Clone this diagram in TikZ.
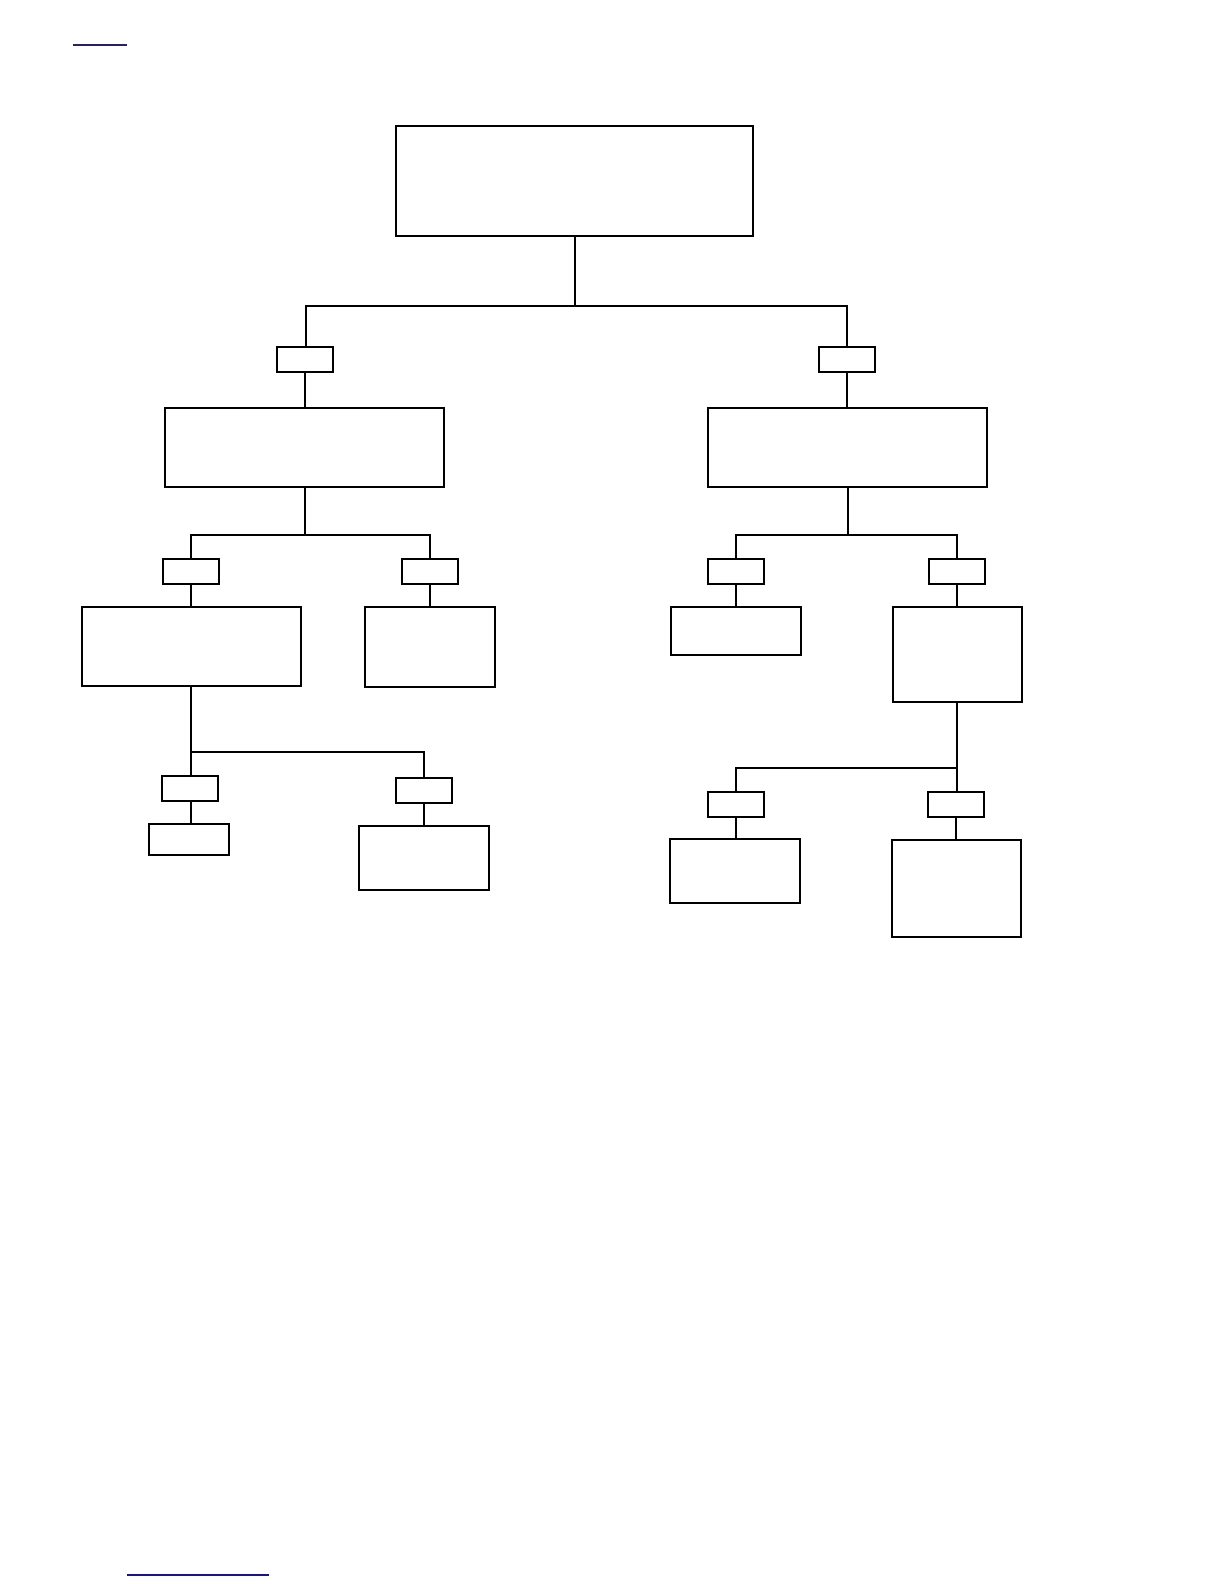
\documentclass[tikz,border=0pt]{standalone}
\begin{document}
\begin{tikzpicture}[x=1pt,y=-1pt,
  box/.style={draw=black,line width=2pt,inner sep=0pt,fill=white},
  tag/.style={box,minimum width=56pt,minimum height=25pt},
  link/.style={line width=2pt,line cap=rect}]
\useasboundingbox (0,0) rectangle (1224,1584);
% marks at the top and bottom of the page
\coordinate (ta) at (73,45); \coordinate (tb) at (127,45);
\draw[line width=1.4pt,color={rgb,255:red,42;green,31;blue,107}] (ta) -- (tb);
\coordinate (ba) at (127,1575); \coordinate (bb) at (269,1575);
\draw[line width=1.4pt,color={rgb,255:red,20;green,20;blue,150}] (ba) -- (bb);
% boxes
\node[box,minimum width=357pt,minimum height=110pt] (root) at (574.5,181) {};
\node[tag] (sL) at (305,359.5) {};
\node[tag] (sR) at (847,359.5) {};
\node[box,minimum width=279pt,minimum height=79pt] (L1) at (304.5,447.5) {};
\node[box,minimum width=279pt,minimum height=79pt] (R1) at (847.5,447.5) {};
\node[tag] (sLL) at (191,571.5) {};
\node[tag] (sLR) at (430,571.5) {};
\node[tag] (sRL) at (736,571.5) {};
\node[tag] (sRR) at (957,571.5) {};
\node[box,minimum width=219pt,minimum height=79pt] (L2a) at (191.5,646.5) {};
\node[box,minimum width=130pt,minimum height=80pt] (L2b) at (430,647) {};
\node[box,minimum width=130pt,minimum height=48pt] (R2a) at (736,631) {};
\node[box,minimum width=129pt,minimum height=95pt] (R2b) at (957.5,654.5) {};
\node[tag] (sA) at (190,788.5) {};
\node[box,minimum width=80pt,minimum height=31pt] (cA) at (189,839.5) {};
\node[tag] (sB) at (424,790.5) {};
\node[box,minimum width=130pt,minimum height=64pt] (cB) at (424,858) {};
\node[tag] (sC) at (736,804.5) {};
\node[box,minimum width=130pt,minimum height=64pt] (cC) at (735,871) {};
\node[tag] (sD) at (956,804.5) {};
\node[box,minimum width=129pt,minimum height=97pt] (cD) at (956.5,888.5) {};
% junctions
\coordinate (j0L) at (306,306); \coordinate (j0R) at (847,306);
\coordinate (j1L) at (191,535); \coordinate (j1R) at (430,535);
\coordinate (j2L) at (736,535); \coordinate (j2R) at (957,535);
\coordinate (j3L) at (191,752); \coordinate (j3R) at (424,752);
\coordinate (j4L) at (736,768); \coordinate (j4R) at (957,768);
% connectors
\begin{scope}[link]
\draw (root.south) -- (root.south |- j0L);
\draw (j0L) -- (j0R);
\draw (j0L) -- (j0L |- sL.north);
\draw (j0R) -- (j0R |- sR.north);
\draw (sL.south) -- (sL.south |- L1.north);
\draw (sR.south) -- (sR.south |- R1.north);
\draw (L1.south) -- (L1.south |- j1L);
\draw (j1L) -- (j1R);
\draw (j1L) -- (j1L |- sLL.north);
\draw (j1R) -- (j1R |- sLR.north);
\draw (sLL.south) -- (sLL.south |- L2a.north);
\draw (sLR.south) -- (sLR.south |- L2b.north);
\draw (R1.south) -- (R1.south |- j2L);
\draw (j2L) -- (j2R);
\draw (j2L) -- (j2L |- sRL.north);
\draw (j2R) -- (j2R |- sRR.north);
\draw (sRL.south) -- (sRL.south |- R2a.north);
\draw (sRR.south) -- (sRR.south |- R2b.north);
\draw (L2a.south -| j3L) -- (j3L);
\draw (j3L) -- (j3L |- sA.north);
\draw (j3L) -- (j3R);
\draw (j3R) -- (j3R |- sB.north);
\draw (sA.south -| j3L) -- (j3L |- cA.north);
\draw (sB.south) -- (sB.south |- cB.north);
\draw (R2b.south -| j4R) -- (j4R);
\draw (j4R) -- (j4L);
\draw (j4L) -- (j4L |- sC.north);
\draw (j4R) -- (j4R |- sD.north);
\draw (sC.south) -- (sC.south |- cC.north);
\draw (sD.south) -- (sD.south |- cD.north);
\end{scope}
\end{tikzpicture}
\end{document}
